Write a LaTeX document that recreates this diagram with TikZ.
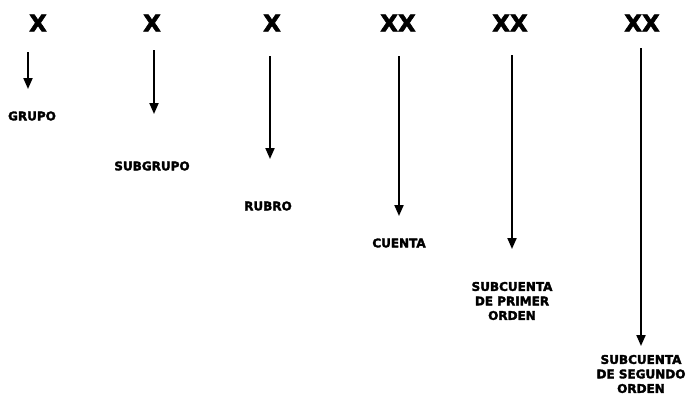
\documentclass[tikz,border=0pt]{standalone}
\usepackage{fontspec}
\setmainfont{DejaVu Sans}
\newfontfamily\heavy[FakeBold=2.5]{DejaVu Sans Bold}
\usetikzlibrary{arrows.meta}
\begin{document}
\begin{tikzpicture}[x=1pt,y=-1pt,
  top/.style={font=\fontsize{23}{26}\selectfont\heavy, inner sep=0pt},
  lab/.style={font=\fontsize{12}{14.5}\selectfont\heavy, inner sep=0pt, align=center},
  arr/.style={line width=2pt, -{Triangle[width=9pt,length=11pt]}}]
\useasboundingbox (0,0) rectangle (689,408);
% top symbols
\node[top] (x1) at (38,23) {X};
\node[top] (x2) at (152,23) {X};
\node[top] (x3) at (272,23) {X};
\node[top] (x4) at (398,23) {XX};
\node[top] (x5) at (510,23) {XX};
\node[top] (x6) at (642,23) {XX};
% labels
\node[lab] (l1) at (32,116) {GRUPO};
\node[lab] (l2) at (152,166) {SUBGRUPO};
\node[lab] (l3) at (268,206) {RUBRO};
\node[lab] (l4) at (399,243) {CUENTA};
\node[lab] (l5) at (512,301) {SUBCUENTA\\DE PRIMER\\ORDEN};
\node[lab] (l6) at (641,374) {SUBCUENTA\\DE SEGUNDO\\ORDEN};
% arrow ends
\coordinate (s1) at (28,52);  \coordinate (e1) at (28,89);
\coordinate (s2) at (154,50); \coordinate (e2) at (154,114);
\coordinate (s3) at (270,56); \coordinate (e3) at (270,159);
\coordinate (s4) at (399,56); \coordinate (e4) at (399,216);
\coordinate (s5) at (512,55); \coordinate (e5) at (512,249);
\coordinate (s6) at (641,48); \coordinate (e6) at (641,346);
\draw[arr] (s1) -- (e1);
\draw[arr] (s2) -- (e2);
\draw[arr] (s3) -- (e3);
\draw[arr] (s4) -- (e4);
\draw[arr] (s5) -- (e5);
\draw[arr] (s6) -- (e6);
\end{tikzpicture}
\end{document}
